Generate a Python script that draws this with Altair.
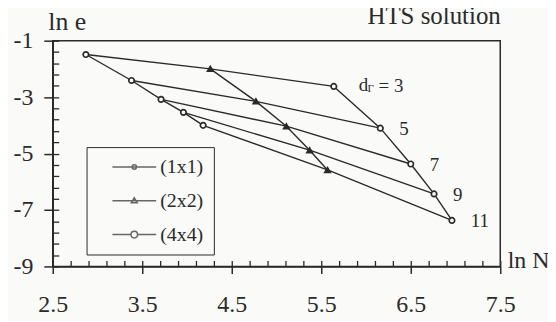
import altair as alt
import pandas as pd

# ---- data ----
series = ["(1x1)", "(2x2)", "(4x4)"]
d_gamma = [3, 5, 7, 9, 11]
ln_N_1x1 = [2.87, 3.38, 3.71, 3.96, 4.18]
ln_e_1x1 = [-1.49, -2.41, -3.08, -3.54, -4.00]
ln_N_2x2 = [4.26, 4.77, 5.11, 5.37, 5.57]
ln_e_2x2 = [-2.00, -3.15, -4.03, -4.88, -5.58]
ln_N_4x4 = [5.64, 6.16, 6.50, 6.76, 6.96]
ln_e_4x4 = [-2.62, -4.10, -5.37, -6.43, -7.37]

x_major = [2.5, 3.5, 4.5, 5.5, 6.5, 7.5]
y_major = [-1, -3, -5, -7, -9]
x_minor = [round(2.5 + 0.2 * i, 1) for i in range(26)]
y_minor = [round(-9 + 0.4 * i, 1) for i in range(21)]

rows = []
for s_i, (s, xs_, ys_) in enumerate(zip(series,
                                         [ln_N_1x1, ln_N_2x2, ln_N_4x4],
                                         [ln_e_1x1, ln_e_2x2, ln_e_4x4])):
    for d, xv, yv in zip(d_gamma, xs_, ys_):
        rows.append({"series": s, "s_order": s_i, "d": d,
                     "lnN": xv, "lne": yv, "label": str(d)})
df = pd.DataFrame(rows)

FONT = "Liberation Serif"
INK = "#2a2a2a"

xsc = alt.Scale(domain=[2.5, 7.5], nice=False, zero=False)
ysc = alt.Scale(domain=[-9, -1], nice=False, zero=False)

x_axis_main = alt.Axis(values=x_major, orient="bottom", format=".1f",
                       labelFlush=False,
                       tickSize=7, tickWidth=1.5, tickColor=INK,
                       domainColor=INK, domainWidth=1.5,
                       labelFont=FONT, labelFontSize=24, labelColor=INK,
                       labelPadding=19, grid=False,
                       title="ln N", titleFont=FONT, titleFontSize=24,
                       titleFontWeight="normal", titleColor=INK, titleAngle=0,
                       titleAlign="left", titleBaseline="alphabetic",
                       titleX=457, titleY=1)
y_axis_main = alt.Axis(values=y_major, orient="left",
                       labelExpr="toString(datum.value)",
                       labelFlush=False,
                       tickSize=9, tickWidth=1.5, tickColor=INK,
                       domainColor=INK, domainWidth=1.5,
                       labelFont=FONT, labelFontSize=24, labelColor=INK,
                       labelPadding=11, grid=False,
                       title="ln e", titleFont=FONT, titleFontSize=26,
                       titleFontWeight="normal", titleColor=INK, titleAngle=0,
                       titleAlign="left", titleBaseline="alphabetic",
                       titleX=-5, titleY=-11)
x_axis_minor = alt.Axis(values=x_minor, orient="bottom", offset=-6,
                        ticks=True, tickSize=6, tickWidth=1.3,
                        tickColor=INK,
                        domain=False, labels=False, grid=False)
y_axis_minor = alt.Axis(values=y_minor, orient="left", offset=-6,
                        ticks=True, tickSize=6, tickWidth=1.3,
                        tickColor=INK,
                        domain=False, labels=False, grid=False)
x_axis_title = alt.Axis(orient="top", domain=False, ticks=False,
                        labels=False, grid=False,
                        title="HTS solution", titleFont=FONT,
                        titleFontSize=25, titleFontWeight="normal",
                        titleColor=INK, titleAngle=0, titleAlign="right",
                        titleBaseline="alphabetic", titleX=450, titleY=-17)

base = alt.Chart(df)

lines_d = base.mark_line(color=INK, strokeWidth=1.4).encode(
    x=alt.X("lnN:Q", scale=xsc, axis=x_axis_main),
    y=alt.Y("lne:Q", scale=ysc, axis=y_axis_main),
    detail="d:N", order="s_order:Q")

lines_s = base.mark_line(color=INK, strokeWidth=1.4).encode(
    x=alt.X("lnN:Q", scale=xsc, axis=x_axis_minor, title=None),
    y=alt.Y("lne:Q", scale=ysc, axis=y_axis_minor, title=None),
    detail="series:N", order="d:Q")

points = base.mark_point(filled=True, stroke=INK, strokeWidth=1.7,
                         size=30, opacity=1).encode(
    x=alt.X("lnN:Q", scale=xsc, axis=x_axis_title),
    y=alt.Y("lne:Q", scale=ysc, axis=None),
    shape=alt.Shape("series:N",
                    scale=alt.Scale(domain=series,
                                    range=["circle", "triangle-up", "circle"]),
                    legend=None),
    fill=alt.Fill("series:N",
                  scale=alt.Scale(domain=series, range=["white", INK, "white"]),
                  legend=None))

p1 = ("M-4.4,0L4.4,0"
      "M-0.44,0A0.44,0.44 0 1,0 0.44,0A0.44,0.44 0 1,0 -0.44,0Z")
p2 = "M-4.4,0L4.4,0M0,-0.6L0.6,0.4L-0.6,0.4Z"
p4 = ("M-4.4,0L-0.66,0M0.66,0L4.4,0"
      "M-0.66,0A0.66,0.66 0 1,0 0.66,0A0.66,0.66 0 1,0 -0.66,0Z")

legend_layer = base.transform_filter("datum.d < 0").mark_point(
    filled=False, color=INK, strokeWidth=1.5).encode(
    x=alt.X("lnN:Q", scale=xsc, axis=None),
    y=alt.Y("lne:Q", scale=ysc, axis=None),
    shape=alt.Shape("series:N",
                    scale=alt.Scale(domain=series, range=[p1, p2, p4]),
                    legend=alt.Legend(title=None, orient="none",
                                      legendX=34, legendY=107,
                                      symbolSize=100, symbolStrokeWidth=1.5,
                                      symbolStrokeColor=INK,
                                      labelFont=FONT, labelFontSize=20,
                                      labelColor=INK, labelOffset=16,
                                      rowPadding=14, padding=10,
                                      symbolOffset=28,
                                      labelExpr="datum.label + '   '",
                                      strokeColor=INK)))

lab4 = base.transform_filter("datum.series == '(4x4)'")
nums = lab4.transform_filter("datum.d > 3").mark_text(
    align="left", baseline="middle", dx=19, dy=1, font=FONT, fontSize=19,
    color=INK).encode(
    x=alt.X("lnN:Q", scale=xsc, axis=None),
    y=alt.Y("lne:Q", scale=ysc, axis=None),
    text="label:N")

first = lab4.transform_filter("datum.d == 3")
lab_d = first.mark_text(align="left", baseline="middle", dx=25, dy=-1,
                        font=FONT, fontSize=19, color=INK).encode(
    x=alt.X("lnN:Q", scale=xsc, axis=None),
    y=alt.Y("lne:Q", scale=ysc, axis=None),
    text=alt.value("d"))
lab_g = first.mark_text(align="left", baseline="middle", dx=34, dy=3,
                        font=FONT, fontSize=11, color=INK).encode(
    x=alt.X("lnN:Q", scale=xsc, axis=None),
    y=alt.Y("lne:Q", scale=ysc, axis=None),
    text=alt.value("Γ"))
lab_eq = first.transform_calculate(t="'= ' + datum.label").mark_text(
    align="left", baseline="middle", dx=45, dy=0,
    font=FONT, fontSize=19, color=INK).encode(
    x=alt.X("lnN:Q", scale=xsc, axis=None),
    y=alt.Y("lne:Q", scale=ysc, axis=None),
    text="t:N")

chart = alt.layer(lines_d, lines_s, points, legend_layer, nums,
                  lab_d, lab_g, lab_eq).resolve_axis(
    x="independent", y="independent").resolve_scale(
    shape="independent").properties(
    width=450, height=227,
    autosize=alt.AutoSizeParams(type="none"),
    padding={"left": 45, "top": 32, "right": 48, "bottom": 54},
    background="#fafaf8",
).configure_view(stroke=INK, strokeWidth=1.5)

chart.save("out.html", embed_options={"renderer": "svg", "actions": False})
